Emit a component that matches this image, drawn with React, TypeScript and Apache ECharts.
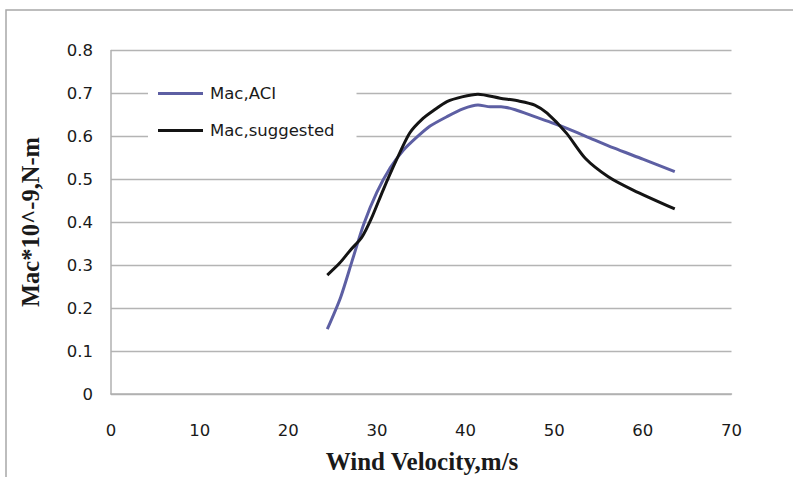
import React, { useEffect, useRef } from "react";
import * as echarts from "echarts";

const aciX = [24.4, 25.9, 27.2, 28.5, 30.0, 31.5, 33.0, 34.5, 36.0, 37.9, 39.7, 41.4, 42.8, 44.0, 45.6, 47.8, 50.0, 51.5, 53.7, 56.7, 60.0, 63.6];
const aciY = [0.151, 0.225, 0.31, 0.395, 0.47, 0.527, 0.568, 0.598, 0.624, 0.646, 0.664, 0.673, 0.669, 0.669, 0.662, 0.646, 0.630, 0.618, 0.599, 0.573, 0.547, 0.518];

const sugX = [24.4, 25.8, 27.0, 28.3, 29.4, 30.7, 32.2, 33.7, 35.2, 36.5, 37.9, 39.6, 41.4, 43.9, 46.1, 47.8, 49.2, 51.4, 53.5, 56.1, 58.9, 63.6];
const sugY = [0.277, 0.305, 0.335, 0.365, 0.41, 0.475, 0.545, 0.608, 0.642, 0.662, 0.681, 0.692, 0.698, 0.689, 0.682, 0.673, 0.654, 0.607, 0.549, 0.506, 0.475, 0.431];

const seriesNames = ["Mac,ACI", "Mac,suggested"];
const xTitle = "Wind Velocity,m/s";
const yTitle = "Mac*10^-9,N-m";

export default function App() {
  const ref = useRef<HTMLDivElement>(null);
  useEffect(() => {
    if (!ref.current) return;
    const chart = echarts.init(ref.current, null, { renderer: "svg" });
    const tickFont = { fontFamily: "DejaVu Sans", fontSize: 16.5, color: "#1a1a1a" };
    chart.setOption({
      animation: false,
      backgroundColor: "#ffffff",
      grid: { left: 111, right: 61.5, top: 50.5, bottom: 83, containLabel: false },
      xAxis: {
        type: "value",
        min: 0,
        max: 70,
        interval: 10,
        axisLine: { show: true, lineStyle: { color: "#b0b0b0", width: 1.5 } },
        axisTick: { show: false },
        splitLine: { show: false },
        axisLabel: { ...tickFont, margin: 28 },
      },
      yAxis: {
        type: "value",
        min: 0,
        max: 0.8,
        interval: 0.1,
        axisLine: { show: true, lineStyle: { color: "#b0b0b0", width: 1.5 } },
        axisTick: { show: false },
        splitLine: { show: true, lineStyle: { color: "#b4b4b4", width: 1.3 } },
        axisLabel: { ...tickFont, margin: 18, formatter: (v: number) => String(Math.round(v * 10) / 10) },
      },
      legend: {
        orient: "vertical",
        left: 148,
        top: 73,
        padding: [12, 22, 12, 10],
        backgroundColor: "#ffffff",
        icon: "rect",
        itemWidth: 45,
        itemHeight: 3,
        itemGap: 20,
        textStyle: { fontFamily: "DejaVu Sans", fontSize: 16.5, color: "#1a1a1a", padding: [0, 0, 0, 2], lineHeight: 17 },
        data: seriesNames,
      },
      graphic: [
        {
          type: "rect",
          shape: { x: 6, y: 10, width: 1000, height: 1000 },
          style: { fill: "none", stroke: "#a8a8a8", lineWidth: 1.5 },
          silent: true,
          z: -1,
        },
        {
          type: "text",
          x: 422,
          y: 461,
          style: {
            text: xTitle,
            fontFamily: "Liberation Serif",
            fontWeight: "bold",
            fontSize: 25,
            fill: "#1a1a1a",
            textAlign: "center",
            textVerticalAlign: "middle",
          },
        },
        {
          type: "text",
          x: 30,
          y: 222,
          rotation: Math.PI / 2,
          style: {
            text: yTitle,
            fontFamily: "Liberation Serif",
            fontWeight: "bold",
            fontSize: 24.5,
            fill: "#1a1a1a",
            textAlign: "center",
            textVerticalAlign: "middle",
          },
        },
      ],
      series: [
        {
          name: seriesNames[0],
          type: "line",
          data: aciX.map((x, i) => [x, aciY[i]]),
          symbol: "none",
          smooth: 0.25,
          lineStyle: { color: "#5d5fa3", width: 3 },
          itemStyle: { color: "#5d5fa3" },
        },
        {
          name: seriesNames[1],
          type: "line",
          data: sugX.map((x, i) => [x, sugY[i]]),
          symbol: "none",
          smooth: 0.25,
          lineStyle: { color: "#141414", width: 3 },
          itemStyle: { color: "#141414" },
        },
      ],
    });
    return () => chart.dispose();
  }, []);
  return (
    <div
      ref={ref}
      style={{ position: "fixed", left: 0, top: 0, width: 793, height: 477, background: "#fff" }}
    />
  );
}
